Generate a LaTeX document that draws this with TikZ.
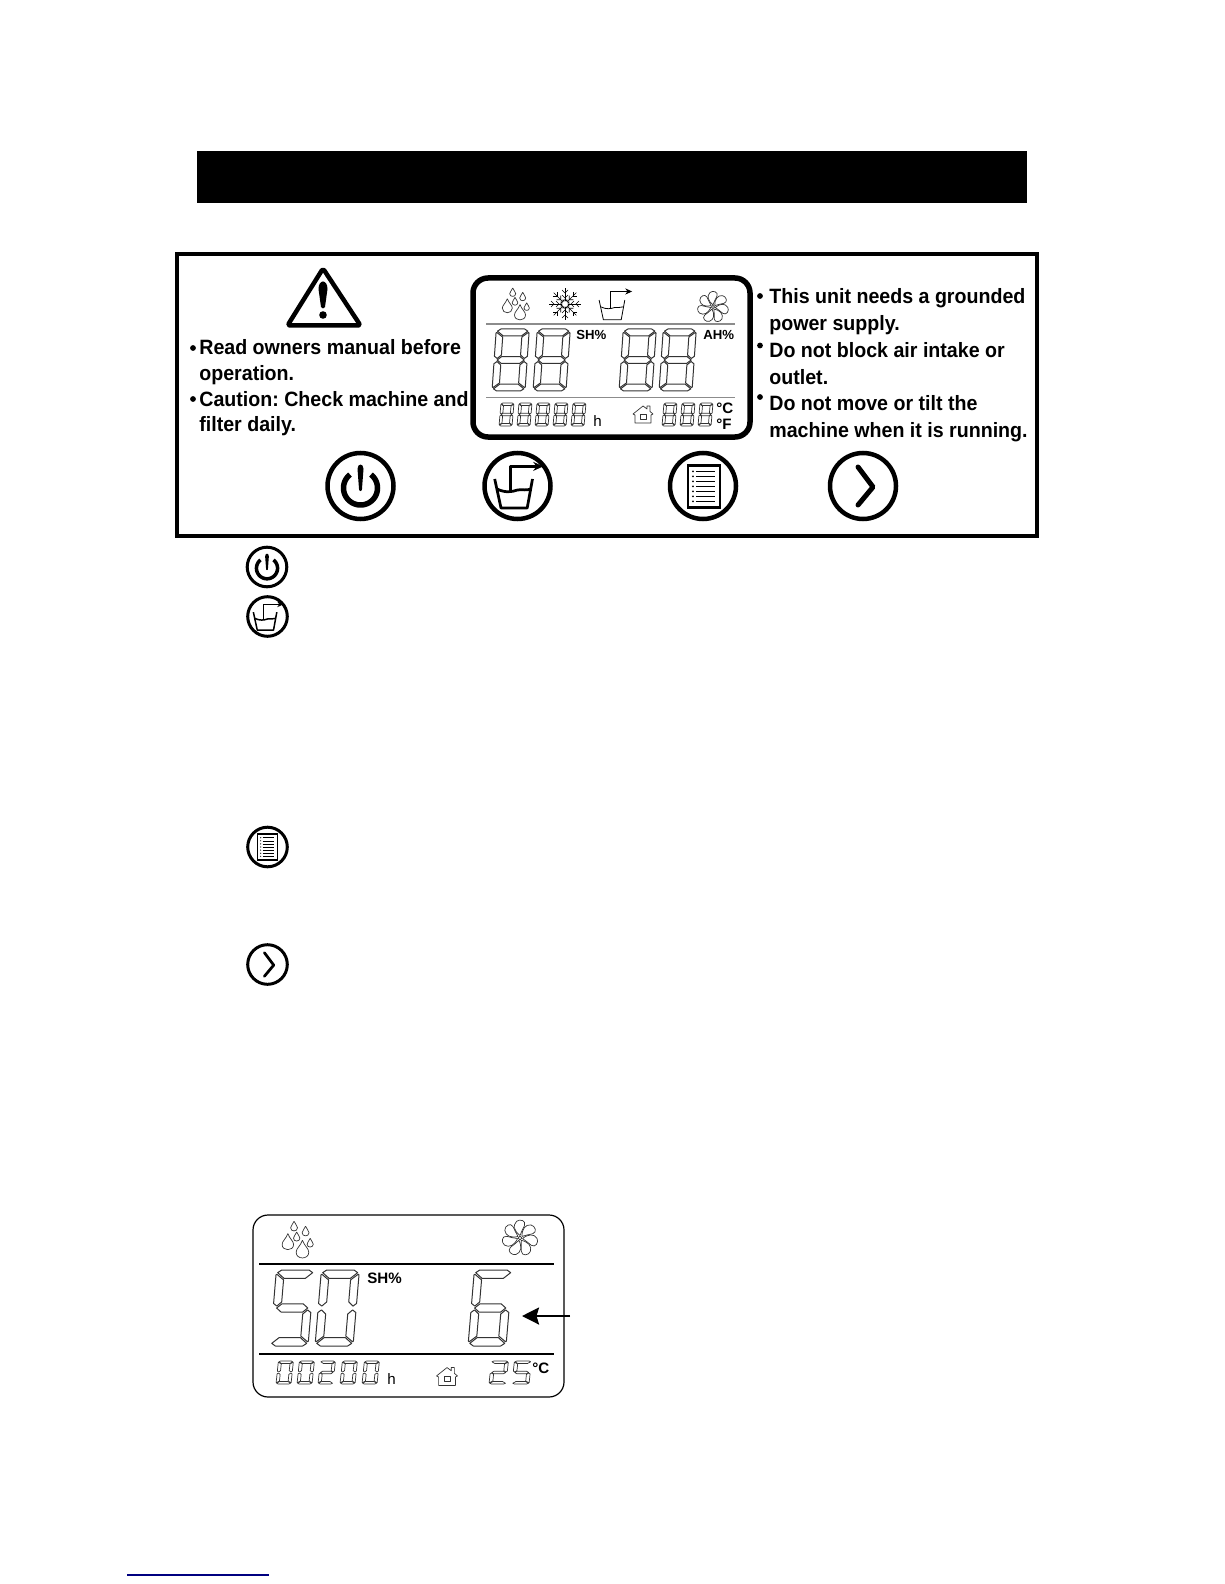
\documentclass[tikz,border=0pt]{standalone}
\usepackage{fontspec}
\setmainfont{Liberation Sans}
\newfontfamily\panelfont[FakeStretch=0.946]{Liberation Sans}
\usetikzlibrary{arrows.meta}
\tikzset{
  paneltext/.style={anchor=base west,inner sep=0pt,font=\fontsize{11.8}{14}\selectfont\panelfont\bfseries},
  lcdbold/.style={inner sep=0pt,font=\fontsize{7.5}{9}\selectfont\bfseries},
  lcdboldbig/.style={inner sep=0pt,font=\fontsize{8.6}{10}\selectfont\bfseries},
  lcdlight/.style={inner sep=0pt,font=\fontsize{8.6}{10}\selectfont},
  bigline/.style={line width=0.02cm,line join=round,black!80},
  thinline/.style={line width=0.014cm,line join=round,black!80},
  rimline/.style={line width=0.09cm},
  smallrim/.style={line width=0.06cm}
}
\newcommand\segA{\draw (.14,2) -- (.86,2) -- (.96,1.93) -- (.78,1.78) -- (.22,1.78) -- (.04,1.93) -- cycle;}
\newcommand\segB{\draw (.98,1.89) -- (.79,1.74) -- (.79,1.16) -- (.91,1.05) -- (1,1.12) -- (1,1.87) -- cycle;}
\newcommand\segC{\draw (.91,.95) -- (1,.88) -- (1,.13) -- (.98,.11) -- (.79,.26) -- (.79,.84) -- cycle;}
\newcommand\segD{\draw (.04,.07) -- (.22,.22) -- (.78,.22) -- (.96,.07) -- (.86,0) -- (.14,0) -- cycle;}
\newcommand\segE{\draw (.02,.11) -- (.21,.26) -- (.21,.84) -- (.09,.95) -- (0,.88) -- (0,.13) -- cycle;}
\newcommand\segF{\draw (.02,1.89) -- (.21,1.74) -- (.21,1.16) -- (.09,1.05) -- (0,1.12) -- (0,1.87) -- cycle;}
\newcommand\segG{\draw (.09,1) -- (.22,1.11) -- (.78,1.11) -- (.91,1) -- (.78,.89) -- (.22,.89) -- cycle;}
\newcommand\lcddigit[6]{\begin{scope}[shift={(#1,#2)},y={(#5,-#4)},x={(#3,0)}]
\edef\seglist{#6}
\foreach \s in \seglist{\csname seg\s\endcsname}
\end{scope}}
\newcommand\onedrop[3]{\begin{scope}[shift={(#1,#2)},scale=#3]
\draw (0,-1.8) .. controls (.3,-.9) and (1,-.5) .. (1,.1) .. controls (1,.7) and (.5,1) .. (0,1) .. controls (-.5,1) and (-1,.7) .. (-1,.1) .. controls (-1,-.5) and (-.3,-.9) .. (0,-1.8);
\end{scope}}
\newcommand\dropicon[3]{\begin{scope}[shift={(#1,#2)},scale=#3,thinline]
\onedrop{5}{12.7}{5.5}
\onedrop{-7.7}{6}{5}
\onedrop{0}{.7}{2.8}
\onedrop{7.7}{-4}{3}
\onedrop{11.7}{6}{2.7}
\onedrop{-2.3}{-8.3}{3}
\end{scope}}
\newcommand\fanicon[3]{\begin{scope}[shift={(#1,#2)},scale=#3,thinline]
\draw (0,0) circle (1.6);
\foreach \a in {0,51.4,102.8,154.3,205.7,257.1,308.6}{
\draw[rotate=\a] (0,-2.2) .. controls (-5,-6) and (-6.5,-11) .. (-3,-14.5) .. controls (0,-17) and (5.5,-15) .. (4,-11) .. controls (2.5,-8) and (1,-5) .. (0,-2.2);
}
\end{scope}}
\newcommand\houseicon[3]{\begin{scope}[shift={(#1,#2)},scale=#3,thinline]
\draw (-10,-1) -- (0,-9) -- (4,-6) -- (4,-9) -- (7,-9) -- (7,-3.5) -- (10,-1) -- (8,0) -- (8,8) -- (-8,8) -- (-8,0) -- cycle;
\draw (-3,-1) rectangle (3,4);
\end{scope}}
\newcommand\powericon[4]{\begin{scope}[shift={(#1,#2)},scale=#3]
\draw[line width=#4] plot[domain=-52:232,samples=50] ({17*cos(\x)},{2+17*sin(\x)});
\fill (-3,-17) .. controls (-3,-23) and (3,-23) .. (3,-17) -- (1.4,4) .. controls (1,5.5) and (-1,5.5) .. (-1.4,4) -- cycle;
\end{scope}}
\newcommand\bucketicon[4]{\begin{scope}[shift={(#1,#2)},scale=#3,line width=#4,line join=round]
\draw (-22.8,-7) -- (-16.5,22) -- (9.7,22) -- (15,-7);
\draw (-20.5,3) .. controls (-12,7) and (-6,6) .. (0,4) .. controls (5,3) and (9,5) .. (13,3);
\draw[-{Stealth[length=#3*10*0.02cm,width=#3*9*0.02cm]}] (-6.8,5) -- (-6.8,-19.6) -- (25.7,-19.6);
\end{scope}}
\newcommand\menuicon[4]{\begin{scope}[shift={(#1,#2)},scale=#3,line width=#4]
\draw (-16,-21) rectangle (16,21);
\foreach \y in {-15,-10,-5,0,5,10,15}{
\fill (-11,\y) circle (1);
\draw[line width=0.4*#4] (-8,\y) -- (11,\y);
}
\end{scope}}
\newcommand\nexticon[4]{\begin{scope}[shift={(#1,#2)},scale=#3]
\draw[line width=#4,line cap=round,line join=round] (-5,-19) -- (10,1) -- (-5,19);
\end{scope}}
\begin{document}
\frenchspacing
\begin{tikzpicture}[x=0.02cm,y=-0.02cm]
\useasboundingbox (0,0) rectangle (1224,1584);
\fill (197,151) rectangle (1027,203);
\draw[line width=0.08cm] (177,254.5) rectangle (1037,536);

\draw[line width=0.09cm,line join=round,rounded corners=0.05cm] (323,268.5) -- (360.5,325.5) -- (287.5,325.5) -- cycle;
\fill (318.5,289) .. controls (318.5,279) and (327.5,279) .. (327.5,289) -- (325,307) .. controls (324,309) and (322,309) .. (321,307) -- cycle;
\fill (323,315) circle (3.8);

\fill (193,348) circle (2.9);
\fill (193,399) circle (2.9);
\node[paneltext] (readline) at (199,355) {Read owners manual before};
\node[paneltext] (opline) at (199,380.7) {operation.};
\node[paneltext] (cautionline) at (199,406.7) {Caution: Check machine and};
\node[paneltext] (filterline) at (199,431.7) {filter daily.};

\fill (760,296) circle (2.9);
\fill (760,345.5) circle (2.9);
\fill (760,397) circle (2.9);
\node[paneltext] (groundline) at (769,304) {This unit needs a grounded};
\node[paneltext] (powerline) at (769,331) {power supply.};
\node[paneltext] (blockline) at (769,357.5) {Do not block air intake or};
\node[paneltext] (outletline) at (769,385) {outlet.};
\node[paneltext] (moveline) at (769,411) {Do not move or tilt the};
\node[paneltext] (runline) at (769,438) {machine when it is running.};

\draw[line width=0.11cm,rounded corners=0.3cm] (473,278) rectangle (750,437);
\draw[line width=0.04cm,black!45] (486,324.3) -- (735,324.3);
\draw[line width=0.03cm,black!45] (486,397.3) -- (735,397.3);
\dropicon{515}{301.7}{1}
\begin{scope}[shift={(565,304)},line width=0.011cm]
\foreach \a in {0,45,...,315}{
\draw[rotate=\a] (0,-3) -- (0,-16);
\draw[rotate=\a] (-3,-9) -- (0,-6) -- (3,-9);
\draw[rotate=\a] (-3,-14) -- (0,-11) -- (3,-14);
\draw[rotate=\a] (-3,-4) -- (0,-3) -- (3,-4);
}
\end{scope}
\bucketicon{614.6}{304.8}{.68}{0.016cm}
\fanicon{713}{307}{1}
\begin{scope}[bigline]
\foreach \x in {492,533,619,659}{\lcddigit{\x}{391}{33}{31}{2.15}{A,B,C,D,E,F,G}}
\end{scope}
\node[lcdbold,anchor=west] (shupper) at (576,335) {SH\%};
\node[lcdbold,anchor=west] (ahupper) at (703,335) {AH\%};
\begin{scope}[thinline]
\foreach \x in {499,517,535,553,571,662,680,698}{\lcddigit{\x}{426}{13}{11.5}{1}{A,B,C,D,E,F,G}}
\end{scope}
\node[lcdlight,anchor=base west] (hupper) at (593,426) {h};
\houseicon{643}{415}{1}
\node[lcdlight,anchor=base west] (cupper) at (716,414) {\textbf{°C}};
\node[lcdlight,anchor=base west] (fupper) at (716,429) {\textbf{°F}};

\draw[rimline] (360.5,486) circle (33);
\powericon{360.5}{486}{1}{0.11cm}
\draw[rimline] (517.5,486) circle (33);
\bucketicon{517.5}{486}{1}{0.055cm}
\draw[rimline] (703,486) circle (33);
\menuicon{703.9}{486.4}{1}{0.045cm}
\draw[rimline] (863,486) circle (33);
\nexticon{863}{486}{1}{0.1cm}

\draw[smallrim] (267,567) circle (19.8);
\powericon{267}{567}{.62}{0.07cm}
\draw[smallrim] (267.5,616.5) circle (19.8);
\bucketicon{267.5}{616.5}{.62}{0.03cm}
\draw[smallrim] (267.5,847) circle (19.8);
\menuicon{267.5}{847}{.62}{0.03cm}
\draw[smallrim] (267.5,964.5) circle (19.8);
\nexticon{267.5}{964.5}{.62}{0.055cm}

\draw[line width=0.024cm,rounded corners=0.3cm] (253,1215) rectangle (564,1397);
\draw[line width=0.03cm] (259,1264) -- (554,1264);
\draw[line width=0.03cm] (259,1354) -- (554,1354);
\dropicon{296.7}{1237}{1.15}
\fanicon{520}{1238}{1.15}
\begin{scope}[bigline]
\lcddigit{270}{1346}{38}{38}{3.2}{A,F,G,C,D}
\lcddigit{315}{1346}{38}{38}{3.2}{A,B,C,D,E,F}
\lcddigit{468}{1346}{38}{38}{3.2}{A,F,G,C,D,E}
\end{scope}
\node[lcdboldbig,anchor=west] (shlower) at (367,1278) {SH\%};
\begin{scope}[thinline]
\foreach \x/\d in {276/{A,B,C,D,E,F},297/{A,B,C,D,E,F},318/{A,B,G,E,D},340/{A,B,C,D,E,F},362/{A,B,C,D,E,F}}{
\lcddigit{\x}{1384}{15}{11.5}{1.2}{\d}
}
\lcddigit{489}{1384}{17}{11.5}{1.2}{A,B,G,E,D}
\lcddigit{512}{1384}{17}{11.5}{1.2}{A,F,G,C,D}
\end{scope}
\node[lcdlight,anchor=base west] (hlower) at (387,1384) {h};
\houseicon{447}{1377}{1.05}
\node[lcdboldbig,anchor=west] (clower) at (532,1368) {°C};
\coordinate (arrowtail) at (570,1316);
\coordinate (arrowtip) at (522,1316);
\draw[line width=0.05cm,-{Stealth[length=0.34cm,width=0.34cm,inset=0.05cm]}] (arrowtail) -- (arrowtip);

\draw[line width=0.025cm,blue!50!black] (127,1575) -- (269,1575);
\end{tikzpicture}
\end{document}
